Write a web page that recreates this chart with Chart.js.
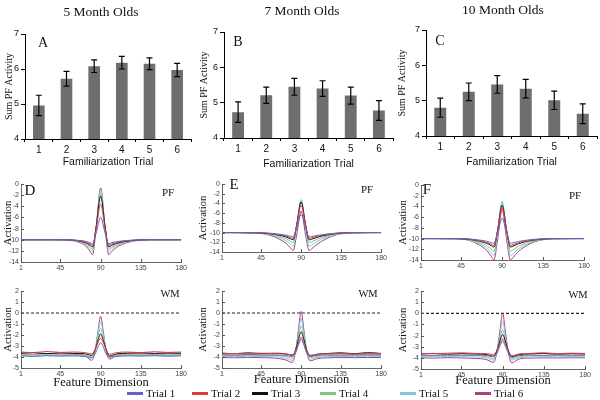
<!DOCTYPE html>
<html>
<head>
<meta charset="utf-8">
<script src="https://cdn.jsdelivr.net/npm/chart.js@4.4.1/dist/chart.umd.min.js"></script>
<style>
    body { margin: 0; background: #fff; }
    #page { position: relative; width: 600px; height: 400px; overflow: hidden; }
    .panel { position: absolute; }
    .txt { position: absolute; transform: translate(-50%, -50%); white-space: nowrap; font-family: "Liberation Serif", "Times New Roman", serif; color: #111; }
    .key { position: absolute; top: 386px; height: 14px; font: 11px "Liberation Serif", "Times New Roman", serif; color: #111; display: flex; align-items: center; white-space: nowrap; }
    .key i { display: inline-block; width: 16px; height: 3px; margin-right: 3px; }
</style>
</head>
<body>
<div id="page"></div>
<script>
const trials = ["Trial 1", "Trial 2", "Trial 3", "Trial 4", "Trial 5", "Trial 6"];
const trialColors = ["#6262c8", "#e03c3c", "#111111", "#86c486", "#7ccad8", "#b23c86"];

// top row: summed PF activity per familiarization trial
const trialLabels = ["1", "2", "3", "4", "5", "6"];
const sum5 = [4.96, 5.72, 6.08, 6.18, 6.15, 5.97];
const err5 = [0.29, 0.21, 0.18, 0.18, 0.17, 0.19];
const sum7 = [4.73, 5.21, 5.45, 5.40, 5.20, 4.78];
const err7 = [0.29, 0.23, 0.24, 0.22, 0.24, 0.28];
const sum10 = [4.80, 5.25, 5.46, 5.34, 5.01, 4.63];
const err10 = [0.27, 0.25, 0.25, 0.26, 0.26, 0.28];
const barTicks = [4, 5, 6, 7];

// bottom rows: activation along the feature dimension
const featTicks = [1, 45, 90, 135, 180];
const pfTicks = [0, -2, -4, -6, -8, -10, -12, -14];
const wmTicks = [2, 1, 0, -1, -2, -3, -4, -5];
const pfX = [1, 40, 55, 65, 73, 78, 81, 85, 90, 95, 99, 102, 108, 118, 130, 145, 180];
const wmX = [1, 15, 30, 45, 60, 72, 80, 84, 87, 90, 93, 96, 100, 108, 120, 135, 150, 165, 180];
const zeroX = [1, 180];
const zeroY = [0, 0];

const pf5 = [
    [-10, -10, -10.02, -10.11, -10.28, -10.53, -10.7, -8.82, -6.0, -8.82, -10.7, -10.56, -10.35, -10.15, -10.04, -10, -10],
    [-10, -10, -10.03, -10.15, -10.4, -10.75, -11.0, -8.04, -3.6, -8.04, -11.0, -10.8, -10.5, -10.22, -10.06, -10, -10],
    [-10, -10, -10.04, -10.2, -10.52, -10.98, -11.3, -7.66, -2.2, -7.66, -11.3, -11.04, -10.65, -10.29, -10.08, -10, -10],
    [-10, -10, -10.05, -10.26, -10.68, -11.28, -11.7, -7.66, -1.6, -7.66, -11.7, -11.36, -10.85, -10.37, -10.1, -10, -10],
    [-10, -10, -10.06, -10.32, -10.84, -11.58, -12.1, -7.7, -1.1, -7.7, -12.1, -11.68, -11.05, -10.46, -10.13, -10, -10],
    [-10, -10, -10.08, -10.41, -11.08, -12.03, -12.7, -7.9, -0.7, -7.9, -12.7, -12.16, -11.35, -10.59, -10.16, -10, -10]
];
const pf7 = [
    [-10, -10.03, -10.14, -10.32, -10.54, -10.77, -10.9, -9.06, -6.3, -9.06, -10.9, -10.81, -10.59, -10.32, -10.11, -10.02, -10],
    [-10, -10.04, -10.18, -10.42, -10.72, -11.02, -11.2, -8.48, -4.4, -8.48, -11.2, -11.08, -10.78, -10.42, -10.14, -10.02, -10],
    [-10, -10.05, -10.23, -10.53, -10.9, -11.28, -11.5, -8.38, -3.7, -8.38, -11.5, -11.35, -10.98, -10.53, -10.18, -10.03, -10],
    [-10, -10.06, -10.32, -10.74, -11.26, -11.79, -12.1, -8.54, -3.2, -8.54, -12.1, -11.89, -11.37, -10.74, -10.25, -10.04, -10],
    [-10, -10.08, -10.42, -10.98, -11.68, -12.38, -12.8, -9.04, -3.4, -9.04, -12.8, -12.52, -11.82, -10.98, -10.34, -10.06, -10],
    [-10, -10.11, -10.56, -11.3, -12.22, -13.15, -13.7, -10.46, -5.6, -10.46, -13.7, -13.33, -12.41, -11.3, -10.44, -10.07, -10]
];
const pf10 = [
    [-10, -10.01, -10.09, -10.27, -10.5, -10.74, -10.9, -9.02, -6.2, -9.02, -10.9, -10.79, -10.54, -10.27, -10.09, -10.01, -10],
    [-10, -10.01, -10.13, -10.39, -10.72, -11.07, -11.3, -8.5, -4.3, -8.5, -11.3, -11.14, -10.78, -10.39, -10.13, -10.01, -10],
    [-10, -10.02, -10.16, -10.48, -10.88, -11.31, -11.6, -8.48, -3.8, -8.48, -11.6, -11.41, -10.96, -10.48, -10.16, -10.02, -10],
    [-10, -10.02, -10.24, -10.72, -11.32, -11.97, -12.4, -8.76, -3.3, -8.76, -12.4, -12.11, -11.44, -10.72, -10.24, -10.02, -10],
    [-10, -10.03, -10.32, -10.96, -11.76, -12.62, -13.2, -9.12, -3.0, -9.12, -13.2, -12.82, -11.92, -10.96, -10.32, -10.03, -10],
    [-10, -10.04, -10.4, -11.2, -12.2, -13.28, -14.0, -10.24, -4.6, -10.24, -14.0, -13.52, -12.4, -11.2, -10.4, -10.04, -10]
];
const wm5 = [
    [-3.9, -3.95, -3.88, -3.92, -3.9, -3.95, -4.05, -3.7, -3.1, -2.7, -3.1, -3.7, -4.0, -3.95, -3.9, -3.92, -3.88, -3.93, -3.9],
    [-3.55, -3.6, -3.5, -3.58, -3.55, -3.6, -3.7, -3.3, -2.7, -2.3, -2.7, -3.3, -3.75, -3.6, -3.55, -3.6, -3.52, -3.58, -3.55],
    [-3.65, -3.6, -3.7, -3.62, -3.68, -3.7, -3.85, -3.3, -2.5, -1.9, -2.5, -3.3, -3.9, -3.72, -3.65, -3.6, -3.68, -3.62, -3.66],
    [-3.75, -3.78, -3.72, -3.76, -3.75, -3.8, -3.95, -3.3, -2.2, -1.4, -2.2, -3.3, -4.0, -3.82, -3.75, -3.77, -3.74, -3.76, -3.75],
    [-3.85, -3.88, -3.83, -3.86, -3.85, -3.9, -4.1, -3.3, -1.9, -0.8, -1.9, -3.3, -4.1, -3.92, -3.85, -3.86, -3.84, -3.87, -3.85],
    [-3.7, -3.75, -3.68, -3.72, -3.75, -3.85, -4.3, -3.4, -1.7, -0.3, -1.7, -3.4, -4.2, -3.85, -3.72, -3.7, -3.73, -3.7, -3.72]
];
const wm7 = [
    [-3.8, -3.82, -3.78, -3.8, -3.82, -3.85, -3.95, -3.6, -2.9, -2.4, -2.9, -3.6, -3.95, -3.85, -3.8, -3.82, -3.78, -3.8, -3.8],
    [-3.7, -3.68, -3.72, -3.66, -3.7, -3.72, -3.8, -3.4, -2.7, -2.2, -2.7, -3.4, -3.85, -3.75, -3.7, -3.68, -3.72, -3.66, -3.7],
    [-3.65, -3.7, -3.62, -3.68, -3.66, -3.7, -3.85, -3.3, -2.4, -1.7, -2.4, -3.3, -3.9, -3.75, -3.68, -3.62, -3.7, -3.6, -3.68],
    [-3.85, -3.87, -3.83, -3.86, -3.85, -3.95, -4.1, -3.3, -2.1, -1.2, -2.1, -3.3, -4.05, -3.95, -3.87, -3.85, -3.86, -3.84, -3.85],
    [-3.95, -3.97, -3.93, -3.96, -3.97, -4.1, -4.3, -3.3, -1.8, -0.5, -1.8, -3.3, -4.2, -4.05, -3.97, -3.95, -3.96, -3.94, -3.95],
    [-4.05, -4.07, -4.03, -4.06, -4.1, -4.25, -4.5, -3.4, -1.5, 0.15, -1.5, -3.4, -4.35, -4.15, -4.07, -4.05, -4.06, -4.04, -4.05]
];
const wm10 = [
    [-3.75, -3.78, -3.72, -3.76, -3.75, -3.78, -3.9, -3.55, -2.95, -2.5, -2.95, -3.55, -3.95, -3.8, -3.75, -3.78, -3.73, -3.76, -3.75],
    [-3.6, -3.62, -3.58, -3.55, -3.6, -3.62, -3.7, -3.3, -2.75, -2.3, -2.75, -3.3, -3.8, -3.65, -3.6, -3.55, -3.62, -3.58, -3.6],
    [-3.65, -3.6, -3.68, -3.62, -3.66, -3.7, -3.85, -3.3, -2.5, -1.9, -2.5, -3.3, -3.9, -3.7, -3.65, -3.6, -3.67, -3.62, -3.65],
    [-3.8, -3.83, -3.78, -3.82, -3.8, -3.88, -4.05, -3.3, -2.3, -1.5, -2.3, -3.3, -4.05, -3.9, -3.82, -3.8, -3.81, -3.79, -3.8],
    [-3.9, -3.92, -3.88, -3.91, -3.92, -4.0, -4.2, -3.3, -2.0, -0.7, -2.0, -3.3, -4.2, -4.0, -3.92, -3.9, -3.91, -3.89, -3.9],
    [-4.0, -4.02, -3.98, -4.01, -4.05, -4.15, -4.4, -3.4, -1.6, 0.0, -1.6, -3.4, -4.45, -4.1, -4.02, -4.0, -4.01, -3.99, -4.0]
];

const serif = '"Liberation Serif", "Times New Roman", serif';
const sans = '"Liberation Sans", Arial, sans-serif';
const page = document.getElementById("page");

function addText(text, x, y, size) {
    const el = document.createElement("div");
    el.className = "txt";
    el.textContent = text;
    el.style.left = x + "px";
    el.style.top = y + "px";
    el.style.fontSize = size + "px";
    page.appendChild(el);
}

// box = [left, top, width, height] of the canvas, area = [left, top, right, bottom] of the plot
function addCanvas(box) {
    const div = document.createElement("div");
    div.className = "panel";
    div.style.left = box[0] + "px";
    div.style.top = box[1] + "px";
    const canvas = document.createElement("canvas");
    canvas.width = box[2];
    canvas.height = box[3];
    div.appendChild(canvas);
    page.appendChild(div);
    return canvas;
}

const errorBars = {
    id: "errorBars",
    afterDatasetsDraw(chart) {
        const ds = chart.data.datasets[0];
        if (!ds.errs) return;
        const y = chart.scales.y;
        const ctx = chart.ctx;
        ctx.save();
        ctx.strokeStyle = "#000";
        ctx.lineWidth = 1.2;
        chart.getDatasetMeta(0).data.forEach((bar, i) => {
            const top = y.getPixelForValue(ds.data[i] + ds.errs[i]);
            const bot = y.getPixelForValue(ds.data[i] - ds.errs[i]);
            ctx.beginPath();
            ctx.moveTo(bar.x, top);
            ctx.lineTo(bar.x, bot);
            ctx.moveTo(bar.x - 3, top);
            ctx.lineTo(bar.x + 3, top);
            ctx.moveTo(bar.x - 3, bot);
            ctx.lineTo(bar.x + 3, bot);
            ctx.stroke();
        });
        ctx.restore();
    }
};

const innerTicks = {
    id: "innerTicks",
    afterDraw(chart) {
        if (chart.config.type !== "line") return;
        const { ctx, chartArea: a, scales } = chart;
        ctx.save();
        ctx.strokeStyle = "#555";
        ctx.lineWidth = 1;
        ctx.beginPath();
        scales.x.ticks.forEach(t => {
            const px = Math.round(scales.x.getPixelForValue(t.value)) + 0.5;
            ctx.moveTo(px, a.bottom);
            ctx.lineTo(px, a.bottom - 3);
        });
        scales.y.ticks.forEach(t => {
            const py = Math.round(scales.y.getPixelForValue(t.value)) + 0.5;
            ctx.moveTo(a.left, py);
            ctx.lineTo(a.left + 3, py);
        });
        ctx.stroke();
        ctx.restore();
    }
};

function makeBar(box, area, values, errs) {
    const canvas = addCanvas(box);
    return new Chart(canvas, {
        type: "bar",
        data: {
            labels: trialLabels,
            datasets: [{
                data: values,
                errs: errs,
                backgroundColor: "#6e6e6e",
                barPercentage: 0.42,
                categoryPercentage: 1
            }]
        },
        options: {
            responsive: false,
            animation: false,
            layout: { padding: { top: area[1] - box[1], right: box[0] + box[2] - area[2], left: 0, bottom: 0 } },
            plugins: { legend: { display: false }, tooltip: { enabled: false } },
            scales: {
                x: {
                    afterFit: s => { s.height = box[1] + box[3] - area[3]; },
                    grid: { drawOnChartArea: false, color: "#000", tickLength: 3, offset: true },
                    border: { color: "#000", width: 1 },
                    ticks: { color: "#111", font: { family: sans, size: 10 }, padding: 2, maxRotation: 0 },
                    title: { display: true, text: "Familiarization Trial", color: "#111", font: { family: sans, size: 10.5 }, padding: { top: 0, bottom: 0 } }
                },
                y: {
                    min: 4,
                    max: 7,
                    afterFit: s => { s.width = area[0] - box[0]; },
                    afterBuildTicks: s => { s.ticks = barTicks.map(v => ({ value: v })); },
                    grid: { drawOnChartArea: false, color: "#000", tickLength: 4 },
                    border: { color: "#000", width: 1 },
                    ticks: { color: "#111", font: { family: sans, size: 9 }, padding: 2, autoSkip: false },
                    title: { display: true, text: "Sum PF Activity", color: "#111", font: { family: serif, size: 10 }, padding: { top: 1, bottom: 0 } }
                }
            }
        },
        plugins: [errorBars]
    });
}

function makeLine(box, area, xs, series, yMin, yMax, yTicks, showZero, xTitle) {
    const canvas = addCanvas(box);
    const datasets = series.map((vals, i) => ({
        label: trials[i],
        data: xs.map((x, j) => ({ x: x, y: vals[j] })),
        borderColor: trialColors[i],
        borderWidth: 1,
        pointRadius: 0,
        cubicInterpolationMode: "monotone"
    }));
    if (showZero) {
        datasets.push({
            label: "zero",
            data: zeroX.map((x, j) => ({ x: x, y: zeroY[j] })),
            borderColor: "#222",
            borderWidth: 1.2,
            borderDash: [3, 2],
            pointRadius: 0
        });
    }
    return new Chart(canvas, {
        type: "line",
        data: { datasets: datasets },
        options: {
            responsive: false,
            animation: false,
            layout: { padding: { top: area[1] - box[1], right: box[0] + box[2] - area[2], left: 0, bottom: 0 } },
            plugins: { legend: { display: false }, tooltip: { enabled: false } },
            scales: {
                x: {
                    type: "linear",
                    min: 1,
                    max: 180,
                    afterFit: s => { s.height = box[1] + box[3] - area[3]; },
                    afterBuildTicks: s => { s.ticks = featTicks.map(v => ({ value: v })); },
                    grid: { display: false, drawTicks: false },
                    border: { color: "#666", width: 1 },
                    ticks: { color: "#444", font: { family: sans, size: 7 }, padding: 2, maxRotation: 0, autoSkip: false },
                    title: { display: !!xTitle, text: xTitle || "", color: "#111", font: { family: serif, size: 12.5 }, padding: { top: 0, bottom: 0 } }
                },
                y: {
                    min: yMin,
                    max: yMax,
                    afterFit: s => { s.width = area[0] - box[0]; },
                    afterBuildTicks: s => { s.ticks = yTicks.map(v => ({ value: v })); },
                    grid: { display: false, drawTicks: false },
                    border: { color: "#666", width: 1 },
                    ticks: { color: "#444", font: { family: sans, size: 7 }, padding: 2, autoSkip: false },
                    title: { display: true, text: "Activation", color: "#111", font: { family: serif, size: 10.5 }, padding: { top: 1, bottom: 0 } }
                }
            }
        },
        plugins: [innerTicks]
    });
}

makeBar([2, 0, 192, 168], [25, 34, 191, 139], sum5, err5);
makeBar([197, 0, 198, 170], [224, 32, 393, 138], sum7, err7);
makeBar([395, 0, 205, 168], [426, 30, 597, 136], sum10, err10);

makeLine([1, 172, 188, 100], [21, 184, 182, 262], pfX, pf5, -14, 0, pfTicks, false, "");
makeLine([196, 172, 193, 90], [222, 184, 383, 252], pfX, pf7, -14, 0, pfTicks, false, "");
makeLine([396, 172, 196, 100], [421, 185, 585, 260], pfX, pf10, -14, 0, pfTicks, false, "");

makeLine([1, 284, 188, 106], [21, 291, 182, 368], wmX, wm5, -5, 2, wmTicks, true, "Feature Dimension");
makeLine([196, 284, 193, 103], [222, 291, 383, 368], wmX, wm7, -5, 2, wmTicks, true, "Feature Dimension");
makeLine([396, 284, 197, 104], [421, 291, 587, 369], wmX, wm10, -5, 2, wmTicks, true, "Feature Dimension");

addText("5 Month Olds", 101, 12, 13.5);
addText("7 Month Olds", 302, 11, 13.5);
addText("10 Month Olds", 503, 10, 13.5);
addText("A", 43, 43, 14);
addText("B", 238, 42, 14);
addText("C", 440, 41, 14);
addText("D", 30, 190, 15);
addText("E", 234, 184, 15);
addText("F", 427, 189, 15);
addText("PF", 168, 192, 11);
addText("PF", 367, 189, 11);
addText("PF", 575, 195, 11);
addText("WM", 170, 293, 10.5);
addText("WM", 368, 293, 10.5);
addText("WM", 578, 294, 10.5);

const keyLeft = [127, 192, 252, 320, 400, 475];
trials.forEach((t, i) => {
    const el = document.createElement("div");
    el.className = "key";
    el.style.left = keyLeft[i] + "px";
    const sw = document.createElement("i");
    sw.style.background = trialColors[i];
    el.appendChild(sw);
    el.appendChild(document.createTextNode(t));
    page.appendChild(el);
});
</script>
</body>
</html>
